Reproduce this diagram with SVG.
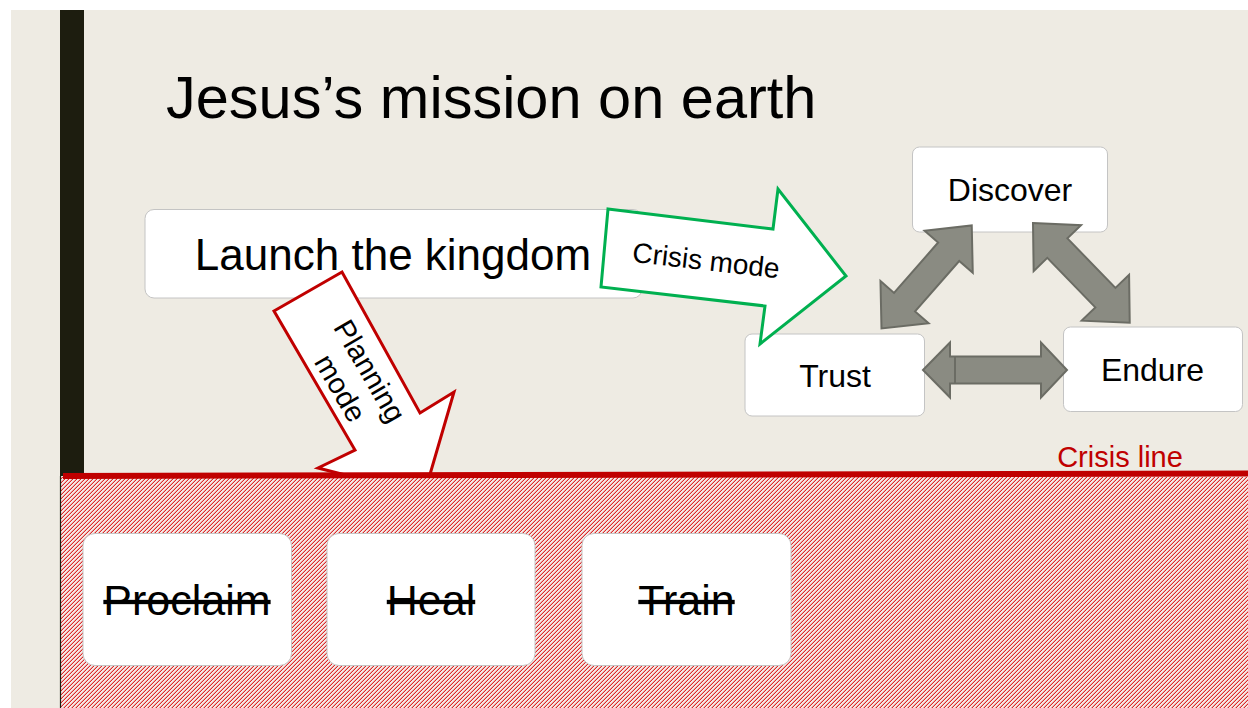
<svg xmlns="http://www.w3.org/2000/svg" width="1248" height="708" viewBox="0 0 1248 708">
<defs>
<pattern id="hatch" width="4" height="4" patternUnits="userSpaceOnUse">
<g shape-rendering="crispEdges">
<rect width="4" height="4" fill="#F4EAE6"/>
<rect x="3" y="0" width="1" height="1" fill="#DC2A2A"/>
<rect x="2" y="1" width="1" height="1" fill="#DC2A2A"/>
<rect x="1" y="2" width="1" height="1" fill="#DC2A2A"/>
<rect x="0" y="3" width="1" height="1" fill="#DC2A2A"/>
<rect x="2" y="0" width="1" height="1" fill="#EEA8A8"/>
<rect x="1" y="1" width="1" height="1" fill="#EEA8A8"/>
<rect x="0" y="2" width="1" height="1" fill="#EEA8A8"/>
<rect x="3" y="3" width="1" height="1" fill="#EEA8A8"/>
</g>
</pattern>
<style>
.box{fill:#FFFFFF;stroke:#C4C4C4;stroke-width:1}
.t{font-family:"Liberation Sans",Arial,sans-serif;fill:#000}
.strike{text-decoration:line-through}
.gray{fill:#8A8B82;stroke:#6B6C64;stroke-width:2;stroke-linejoin:miter}
</style>
</defs>
<rect x="0" y="0" width="1248" height="708" fill="#FFFFFF"/>
<rect x="11" y="10" width="1237" height="698" fill="#EEEBE3"/>
<rect x="60" y="10" width="24" height="466" fill="#1D1D0F"/>
<text class="t" x="166" y="118" font-size="59.5">Jesus’s mission on earth</text>

<g id="launch">
<rect class="box" x="145" y="209.5" width="497" height="88.5" rx="9"/>
<text class="t" x="393" y="270" font-size="44" text-anchor="middle">Launch the kingdom</text>
</g>

<g id="discover">
<rect class="box" x="912.5" y="147" width="195" height="85" rx="7"/>
<text class="t" x="1010" y="201" font-size="32" text-anchor="middle">Discover</text>
</g>
<g id="trust">
<rect class="box" x="745" y="334" width="179.5" height="82" rx="7"/>
<text class="t" x="835" y="387" font-size="32" text-anchor="middle">Trust</text>
</g>
<g id="endure">
<rect class="box" x="1063.5" y="327" width="179" height="84.5" rx="7"/>
<text class="t" x="1152.5" y="381" font-size="32" text-anchor="middle">Endure</text>
</g>

<g id="connectors">
<g id="crisis-mode">
<polygon points="608,209 773,229 778,189 846,276 760,344 765,306 601,287" fill="#FFFFFF" stroke="#00B050" stroke-width="3" stroke-linejoin="miter"/>
<text class="t" x="705" y="270" font-size="28" text-anchor="middle" transform="rotate(6.5 705 270)">Crisis mode</text>
</g>
<g id="planning-mode">
<polygon points="274,311 342,272 420,413 454,392 424,495 318,468 355,450" fill="#FFFFFF" stroke="#C00000" stroke-width="3" stroke-linejoin="miter"/>
<g transform="translate(356,379) rotate(59.8)">
<text class="t" x="0" y="-6" font-size="29" text-anchor="middle">Planning</text>
<text class="t" x="0" y="28" font-size="29" text-anchor="middle">mode</text>
</g>
</g>
<polygon class="gray" transform="translate(881.5,328.5) rotate(-48.8)" points="0,0 35,-32 35,-14 102,-14 102,-32 137,0 102,32 102,14 35,14 35,32"/>
<polygon class="gray" transform="translate(1033,223) rotate(45.9)" points="0,0 35,-33 35,-14 104,-14 104,-33 139,0 104,33 104,14 35,14 35,33"/>
<polygon class="gray" points="923,370 950,342.5 950,356.5 1041,356.5 1041,342.5 1067,370 1041,397.5 1041,383.5 950,383.5 950,397.5"/>
<path d="M955,357 V383" stroke="#6B6C64" stroke-width="2"/>
</g>

<rect x="61" y="477" width="1187" height="231" fill="url(#hatch)"/>
<line x1="60.5" y1="476" x2="60.5" y2="708" stroke="#1D1D0F" stroke-width="1.2"/>
<line x1="63" y1="476" x2="1248" y2="473.5" stroke="#C00000" stroke-width="6"/>
<text x="1120" y="467" font-family="Liberation Sans, Arial, sans-serif" font-size="29" fill="#C00000" text-anchor="middle">Crisis line</text>

<g id="proclaim">
<rect class="box" x="83" y="533.5" width="208.5" height="132" rx="12"/>
<text class="t strike" x="187" y="615" font-size="43" text-anchor="middle">Proclaim</text>
</g>
<g id="heal">
<rect class="box" x="327" y="533.5" width="208" height="132" rx="12"/>
<text class="t strike" x="431" y="615" font-size="43" text-anchor="middle">Heal</text>
</g>
<g id="train">
<rect class="box" x="582" y="533.5" width="209" height="132" rx="12"/>
<text class="t strike" x="686.5" y="615" font-size="43" text-anchor="middle">Train</text>
</g>
</svg>
